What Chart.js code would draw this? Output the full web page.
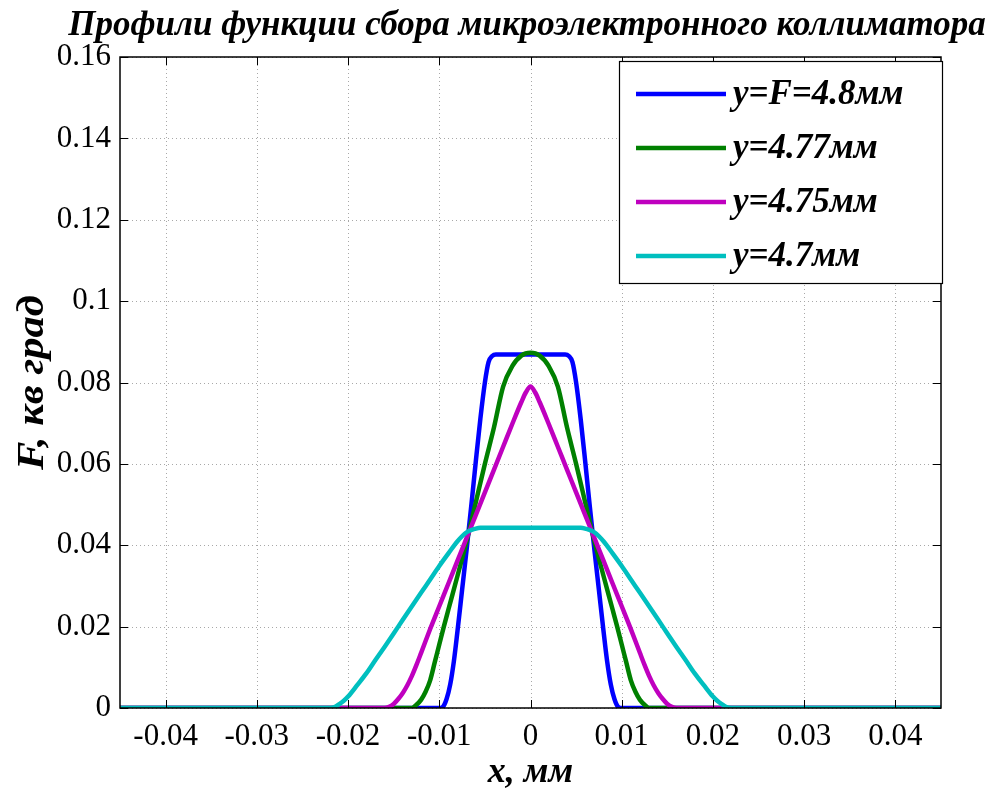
<!DOCTYPE html>
<html>
<head>
<meta charset="utf-8">
<script src="https://cdn.jsdelivr.net/npm/chart.js@4"></script>
<style>
  html, body { margin: 0; padding: 0; background: #ffffff; }
  #wrap { width: 999px; height: 791px; }
</style>
</head>
<body>
<div id="wrap"><canvas id="c" width="999" height="791"></canvas></div>
<script>
// ---------- data (x in mm, F in sq. deg) ----------
const titleText = 'Профили функции сбора микроэлектронного коллиматора';
const xAxisTitle = 'x, мм';
const yAxisTitle = 'F, кв град';
const seriesNames = ['y=F=4.8мм', 'y=4.77мм', 'y=4.75мм', 'y=4.7мм'];
const xTicks = [-0.04, -0.03, -0.02, -0.01, 0, 0.01, 0.02, 0.03, 0.04];
const xTickLabels = ['-0.04', '-0.03', '-0.02', '-0.01', '0', '0.01', '0.02', '0.03', '0.04'];
const yTicks = [0, 0.02, 0.04, 0.06, 0.08, 0.1, 0.12, 0.14, 0.16];
const yTickLabels = ['0', '0.02', '0.04', '0.06', '0.08', '0.1', '0.12', '0.14', '0.16'];

const blueX = [-0.045, -0.0100, -0.0096, -0.0092, -0.0088, -0.0084, -0.0080, -0.0075, -0.0070, -0.0065, -0.0060, -0.0055, -0.0050, -0.0046, -0.0042, -0.0038, 0,
               0.0038, 0.0042, 0.0046, 0.0050, 0.0055, 0.0060, 0.0065, 0.0070, 0.0075, 0.0080, 0.0084, 0.0088, 0.0092, 0.0096, 0.0100, 0.045];
const blueY = [0, 0, 0.0003, 0.0022, 0.0058, 0.0115, 0.0190, 0.0290, 0.0390, 0.0495, 0.0605, 0.0710, 0.0800, 0.0850, 0.0865, 0.0869, 0.0869,
               0.0869, 0.0865, 0.0850, 0.0800, 0.0710, 0.0605, 0.0495, 0.0390, 0.0290, 0.0190, 0.0115, 0.0058, 0.0022, 0.0003, 0, 0];

const greenX = [-0.045, -0.0130, -0.0125, -0.0120, -0.0115, -0.0110, -0.0105, -0.0100, -0.0095, -0.0090, -0.0080, -0.0070, -0.0060, -0.0050, -0.0040, -0.0030, -0.0020, -0.0010, 0,
                0.0010, 0.0020, 0.0030, 0.0040, 0.0050, 0.0060, 0.0070, 0.0080, 0.0090, 0.0095, 0.0100, 0.0105, 0.0110, 0.0115, 0.0120, 0.0125, 0.0130, 0.045];
const greenY = [0, 0, 0.0008, 0.0020, 0.0040, 0.0068, 0.0112, 0.0156, 0.0200, 0.0242, 0.0325, 0.0410, 0.0505, 0.0600, 0.0690, 0.0790, 0.0840, 0.0866, 0.0873,
                0.0866, 0.0840, 0.0790, 0.0690, 0.0600, 0.0505, 0.0410, 0.0325, 0.0242, 0.0200, 0.0156, 0.0112, 0.0068, 0.0040, 0.0020, 0.0008, 0, 0];

const magentaX = [-0.045, -0.0160, -0.0155, -0.0150, -0.0145, -0.0140, -0.0135, -0.0130, -0.0125, -0.0120, -0.0110, -0.0100, -0.0090, -0.0080, -0.0070, -0.0060, -0.0050, -0.0040, -0.0030, -0.0020, -0.0010, -0.0005, 0,
                  0.0005, 0.0010, 0.0020, 0.0030, 0.0040, 0.0050, 0.0060, 0.0070, 0.0080, 0.0090, 0.0100, 0.0110, 0.0120, 0.0125, 0.0130, 0.0135, 0.0140, 0.0145, 0.0150, 0.0155, 0.0160, 0.045];
const magentaY = [0, 0, 0.0003, 0.0010, 0.0022, 0.0037, 0.0056, 0.0079, 0.0106, 0.0135, 0.0194, 0.0250, 0.0306, 0.0362, 0.0418, 0.0474, 0.0530, 0.0586, 0.0642, 0.0698, 0.0752, 0.0776, 0.0790,
                  0.0776, 0.0752, 0.0698, 0.0642, 0.0586, 0.0530, 0.0474, 0.0418, 0.0362, 0.0306, 0.0250, 0.0194, 0.0135, 0.0106, 0.0079, 0.0056, 0.0037, 0.0022, 0.0010, 0.0003, 0, 0];

const cyanX = [-0.045, -0.0220, -0.0215, -0.0210, -0.0205, -0.0200, -0.0190, -0.0180, -0.0170, -0.0160, -0.0150, -0.0140, -0.0130, -0.0120, -0.0110, -0.0100, -0.0090, -0.0080, -0.0070, -0.0060, -0.0055, 0,
               0.0055, 0.0060, 0.0070, 0.0080, 0.0090, 0.0100, 0.0110, 0.0120, 0.0130, 0.0140, 0.0150, 0.0160, 0.0170, 0.0180, 0.0190, 0.0200, 0.0205, 0.0210, 0.0215, 0.0220, 0.045];
const cyanY = [0, 0, 0.0002, 0.0009, 0.0017, 0.0028, 0.0056, 0.0085, 0.0118, 0.0150, 0.0183, 0.0217, 0.0250, 0.0283, 0.0316, 0.0349, 0.0380, 0.0410, 0.0432, 0.0441, 0.0443, 0.0443,
               0.0443, 0.0441, 0.0432, 0.0410, 0.0380, 0.0349, 0.0316, 0.0283, 0.0250, 0.0217, 0.0183, 0.0150, 0.0118, 0.0085, 0.0056, 0.0028, 0.0017, 0.0009, 0.0002, 0, 0];

const seriesColors = ['#0000ff', '#008000', '#bf00bf', '#00bfbf'];

// ---------- build ----------
const pairs = (xs, ys) => xs.map((x, i) => ({ x: x, y: ys[i] }));
const allX = [blueX, greenX, magentaX, cyanX];
const allY = [blueY, greenY, magentaY, cyanY];

const datasets = seriesNames.map((name, i) => ({
  label: name,
  data: pairs(allX[i], allY[i]),
  borderColor: seriesColors[i],
  backgroundColor: seriesColors[i],
  borderWidth: 4.5,
  pointRadius: 0,
  fill: false,
  cubicInterpolationMode: 'monotone',
  order: 4 - i
}));

const SERIF = "'Liberation Serif', 'Times New Roman', serif";

const decor = {
  id: 'decor',
  beforeDatasetsDraw(chart) {
    const { ctx, chartArea: a, scales: { x, y } } = chart;
    ctx.save();
    ctx.strokeStyle = '#a8a8a8';
    ctx.lineWidth = 1;
    ctx.setLineDash([1, 3]);
    xTicks.forEach(v => {
      const px = Math.round(x.getPixelForValue(v)) + 0.5;
      ctx.beginPath(); ctx.moveTo(px, a.top); ctx.lineTo(px, a.bottom); ctx.stroke();
    });
    yTicks.forEach(v => {
      const py = Math.round(y.getPixelForValue(v)) + 0.5;
      ctx.beginPath(); ctx.moveTo(a.left, py); ctx.lineTo(a.right, py); ctx.stroke();
    });
    ctx.restore();
  },
  afterDatasetsDraw(chart) {
    const { ctx, chartArea: a, scales: { x, y } } = chart;
    ctx.save();
    // axes box
    ctx.strokeStyle = '#000';
    ctx.lineWidth = 1.5;
    ctx.setLineDash([]);
    ctx.strokeRect(a.left, a.top, a.right - a.left, a.bottom - a.top);
    // inward tick marks
    ctx.lineWidth = 1;
    const tl = 8;
    xTicks.forEach(v => {
      const px = Math.round(x.getPixelForValue(v)) + 0.5;
      ctx.beginPath();
      ctx.moveTo(px, a.bottom); ctx.lineTo(px, a.bottom - tl);
      ctx.moveTo(px, a.top); ctx.lineTo(px, a.top + tl);
      ctx.stroke();
    });
    yTicks.forEach(v => {
      const py = Math.round(y.getPixelForValue(v)) + 0.5;
      ctx.beginPath();
      ctx.moveTo(a.left, py); ctx.lineTo(a.left + tl, py);
      ctx.moveTo(a.right, py); ctx.lineTo(a.right - tl, py);
      ctx.stroke();
    });
    // legend box
    const lx = 619, ly = 61, lw = 323, lh = 222;
    ctx.fillStyle = '#fff';
    ctx.fillRect(lx, ly, lw, lh);
    ctx.strokeStyle = '#000';
    ctx.lineWidth = 1.2;
    ctx.strokeRect(lx + 0.5, ly + 0.5, lw, lh);
    const rows = [94, 148, 202, 256];
    ctx.font = 'bold italic 35px ' + SERIF;
    ctx.textBaseline = 'middle';
    ctx.textAlign = 'left';
    chart.data.datasets.forEach((ds, i) => {
      ctx.strokeStyle = ds.borderColor;
      ctx.lineWidth = 4.5;
      ctx.beginPath(); ctx.moveTo(636, rows[i]); ctx.lineTo(726, rows[i]); ctx.stroke();
      ctx.fillStyle = '#000';
      ctx.fillText(ds.label, 733, rows[i] + 1);
    });
    ctx.restore();
  },
  afterDraw(chart) {
    const { ctx, chartArea: a } = chart;
    ctx.save();
    ctx.fillStyle = '#000';
    ctx.textAlign = 'center';
    ctx.textBaseline = 'alphabetic';
    ctx.font = 'bold italic 35px ' + SERIF;
    ctx.fillText(titleText, 527, 35);
    ctx.font = 'bold italic 36px ' + SERIF;
    ctx.fillText(xAxisTitle, (a.left + a.right) / 2, 782);
    ctx.translate(43, (a.top + a.bottom) / 2);
    ctx.rotate(-Math.PI / 2);
    ctx.scale(1.12, 1);
    ctx.font = 'bold italic 38px ' + SERIF;
    ctx.fillText(yAxisTitle, 0, 0);
    ctx.restore();
  }
};

new Chart(document.getElementById('c'), {
  type: 'line',
  data: { datasets: datasets },
  options: {
    responsive: false,
    animation: false,
    devicePixelRatio: 1,
    layout: { padding: { left: 0, top: 57, right: 58, bottom: 0 } },
    plugins: { legend: { display: false }, title: { display: false }, tooltip: { enabled: false } },
    scales: {
      x: {
        type: 'linear',
        min: -0.045, max: 0.045,
        grid: { display: false, drawTicks: false },
        border: { display: false },
        afterFit(s) { s.height = 83; },
        afterBuildTicks(s) { s.ticks = xTicks.map(v => ({ value: v })); },
        ticks: {
          color: '#000',
          font: { family: SERIF, size: 31 },
          padding: 10,
          maxRotation: 0,
          autoSkip: false,
          callback: (v) => { const k = xTicks.findIndex(t => Math.abs(t - v) < 1e-9); return k >= 0 ? xTickLabels[k] : ''; }
        }
      },
      y: {
        type: 'linear',
        min: 0, max: 0.16,
        grid: { display: false, drawTicks: false },
        border: { display: false },
        afterFit(s) { s.width = 120; },
        afterBuildTicks(s) { s.ticks = yTicks.map(v => ({ value: v })); },
        ticks: {
          color: '#000',
          font: { family: SERIF, size: 31 },
          padding: 9,
          autoSkip: false,
          callback: (v) => { const k = yTicks.findIndex(t => Math.abs(t - v) < 1e-9); return k >= 0 ? yTickLabels[k] : ''; }
        }
      }
    }
  },
  plugins: [decor]
});
</script>
</body>
</html>
